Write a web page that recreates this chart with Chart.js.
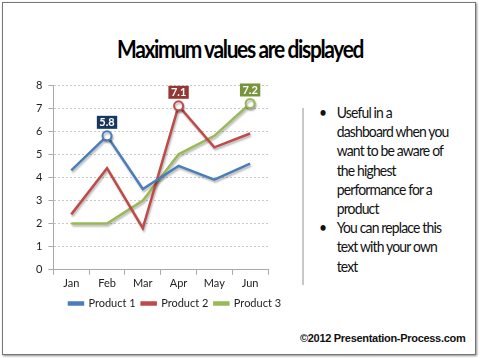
<!DOCTYPE html>
<html><head><meta charset="utf-8">
<script src="https://cdn.jsdelivr.net/npm/chart.js@4/dist/chart.umd.min.js"></script>
<style>
html,body{margin:0;padding:0;background:#fff;}
#page{position:relative;width:480px;height:358px;overflow:hidden;font-family:Lato,"Open Sans",sans-serif;}
#frame{position:absolute;left:2px;top:2px;width:472px;height:351px;border:1px solid #777;box-shadow:1px 1px 2px rgba(0,0,0,0.45);}
#title{position:absolute;left:0;top:33px;width:480px;text-align:center;line-height:30px;}
#title span{display:inline-block;font-weight:bold;font-size:25px;letter-spacing:-1.6px;color:#000;transform-origin:center;white-space:nowrap;}
#wrap{position:absolute;left:30px;top:68px;width:265px;height:251px;}
#sep{position:absolute;left:302px;top:108px;width:2px;height:177px;background:#c8c8c8;}
#notes{position:absolute;left:319px;top:103px;width:170px;font-size:15px;line-height:19.2px;color:#111;margin:0;padding:0;list-style:none;letter-spacing:-0.9px;white-space:nowrap;transform:scaleX(0.93);transform-origin:left top;}
#notes li{position:relative;padding-left:19px;}
#notes li:before{content:"\2022";position:absolute;left:0;top:0;}
#copy{position:absolute;left:300px;top:332px;font-family:"Liberation Sans",Arial,sans-serif;font-weight:bold;font-size:11px;letter-spacing:-0.3px;color:#111;white-space:nowrap;}
</style></head>
<body>
<div id="page">
<div id="frame"></div>
<div id="title"><span id="tt">Maximum values are displayed</span></div>
<div id="wrap"><canvas id="c"></canvas></div>
<div id="sep"></div>
<ul id="notes">
<li>Useful in a<br>dashboard when you<br>want to be aware of<br>the highest<br>performance for a<br>product</li>
<li>You can replace this<br>text with your own<br>text</li>
</ul>
<div id="copy">©2012 Presentation-Process.com</div>
</div>
<script>
const categories = ["Jan","Feb","Mar","Apr","May","Jun"];
const product1 = [4.3, 5.8, 3.5, 4.5, 3.9, 4.6];
const product2 = [2.4, 4.4, 1.8, 7.1, 5.3, 5.9];
const product3 = [2.0, 2.0, 3.0, 5.0, 5.8, 7.2];
const seriesNames = ["Product 1","Product 2","Product 3"];
const yTicks = [0,1,2,3,4,5,6,7,8];

const lineColors = ["#4A7EBB","#BE4B48","#98B954"];
const boxColors = ["#17375E","#953735","#77933C"];
const allData = [product1, product2, product3];

(function(){const t=document.getElementById("tt");const w=t.getBoundingClientRect().width;const s=246/w;t.style.transform="scaleX("+s+")";})();

function maxIndex(arr){let m=0;arr.forEach((v,i)=>{if(v>arr[m])m=i;});return m;}

const datasets = allData.map((d,k)=>{
  const mi = maxIndex(d);
  return {
    label: seriesNames[k],
    data: d,
    borderColor: lineColors[k],
    backgroundColor: lineColors[k],
    borderWidth: 2.5,
    tension: 0,
    pointRadius: d.map((v,i)=> i===mi ? 4.5 : 0),
    pointHoverRadius: d.map((v,i)=> i===mi ? 4.5 : 0),
    pointBackgroundColor: "#fff",
    pointBorderColor: lineColors[k],
    pointBorderWidth: 2,
    boxColor: boxColors[k],
    maxIdx: mi
  };
});

const shadowPlugin = {
  id:"shadow",
  beforeDatasetDraw(chart){const c=chart.ctx;c.save();c.shadowColor="rgba(0,0,0,0.28)";c.shadowBlur=2;c.shadowOffsetX=1;c.shadowOffsetY=2;},
  afterDatasetDraw(chart){chart.ctx.restore();}
};

const legendShift = {
  id:"legendShift",
  afterLayout(chart){ if(chart.legend){ chart.legend.left += 26; chart.legend.right += 26; } }
};

const maxLabelPlugin = {
  id:"maxLabel",
  afterDatasetsDraw(chart){
    const c=chart.ctx;
    chart.data.datasets.forEach((ds,k)=>{
      const meta=chart.getDatasetMeta(k);
      const pt=meta.data[ds.maxIdx];
      const txt=ds.data[ds.maxIdx].toFixed(1);
      c.save();
      c.font="bold 11px Lato, 'Open Sans', sans-serif";
      const w=Math.max(18, c.measureText(txt).width+5), h=13;
      const cx=pt.x, cy=pt.y-13.5;
      c.fillStyle=ds.boxColor;
      c.fillRect(cx-w/2, cy-h/2, w, h);
      c.fillStyle="#fff";
      c.textAlign="center";c.textBaseline="middle";
      c.fillText(txt,cx,cy+0.5);
      c.restore();
    });
  }
};

new Chart(document.getElementById("c"),{
  type:"line",
  data:{labels:categories,datasets:datasets},
  options:{
    responsive:true,maintainAspectRatio:false,animation:false,
    layout:{padding:{top:17,right:27,left:0,bottom:0}},
    plugins:{
      title:{display:false},
      tooltip:{enabled:false},
      legend:{position:"bottom",labels:{boxWidth:14,boxHeight:2,padding:6,color:"#222",font:{family:"Lato, 'Open Sans', sans-serif",size:11}}}
    },
    scales:{
      x:{offset:true,
        grid:{display:true,offset:true,drawOnChartArea:false,drawTicks:true,tickLength:5,tickColor:"#aaa"},
        border:{color:"#aaa"},
        ticks:{color:"#222",padding:2,font:{family:"Lato, 'Open Sans', sans-serif",size:11}}},
      y:{min:0,max:8,
        afterBuildTicks(s){s.ticks=yTicks.map(v=>({value:v}));},
        grid:{color:"#c8c8c8",tickColor:"#aaa",tickLength:5,drawTicks:true},
        border:{color:"#aaa",dash:[2,2]},
        ticks:{color:"#222",padding:6,font:{family:"Lato, 'Open Sans', sans-serif",size:11}}}
    }
  },
  plugins:[shadowPlugin,legendShift,maxLabelPlugin]
});
</script>
</body></html>
